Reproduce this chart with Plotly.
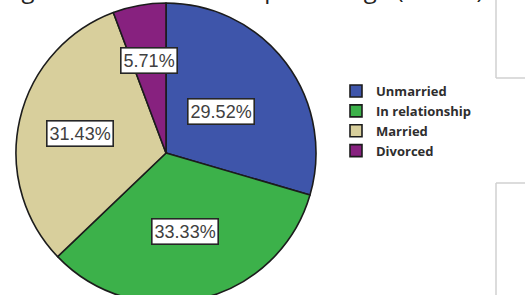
import math
import plotly.graph_objects as go

# Data
categories = ["Unmarried", "In relationship", "Married", "Divorced"]
percentages = [29.52, 33.33, 31.43, 5.71]
colors = ["#3E55AA", "#3CB14A", "#D8CF9C", "#87217F"]
title_text = "Figure 1: Marital status percentage (N=105)"

W, H = 525, 312          # figure is taller than the 295px window; bottom is cut
cx_px, cy_px, r_px = 166, 153, 150

def clamp(v):
    return max(0.0, min(1.0, v))

fig = go.Figure()
fig.add_trace(go.Pie(
    labels=categories,
    values=percentages,
    sort=False,
    direction="clockwise",
    rotation=0,
    marker=dict(colors=colors, line=dict(color="#1c1c1c", width=1.6)),
    textinfo="none",
    hoverinfo="label+percent",
    domain=dict(x=[clamp((cx_px - r_px) / W), clamp((cx_px + r_px) / W)],
                y=[clamp(1 - (cy_px + r_px) / H), clamp(1 - (cy_px - r_px) / H)]),
))

# Boxed percentage labels placed at mid-angle of each slice
label_r = [0.46, 0.54, 0.59, 0.63]
total = sum(percentages)
cum = 0.0
annotations = []
for i, v in enumerate(percentages):
    mid = (cum + v / 2) / total * 2 * math.pi
    cum += v
    px = cx_px + label_r[i] * r_px * math.sin(mid)
    py = cy_px - label_r[i] * r_px * math.cos(mid)
    annotations.append(dict(
        x=px / W, y=1 - py / H, xref="paper", yref="paper",
        xanchor="center", yanchor="middle",
        text=f"{v:.2f}%", showarrow=False,
        font=dict(family="Liberation Sans, Arial", size=18, color="#404040"),
        bgcolor="white", bordercolor="#262626", borderwidth=1.6, borderpad=2,
    ))

# Clipped title at the top edge (only lower part visible)
annotations.append(dict(
    x=486 / W, y=1 + 11 / H, xref="paper", yref="paper",
    xanchor="right", yanchor="middle",
    text=title_text, showarrow=False,
    font=dict(family="Open Sans", size=24, color="#222"),
))

shapes = [
    dict(type="line", xref="paper", yref="paper", x0=496 / W, x1=496 / W,
         y0=1, y1=1 - 78 / H, line=dict(color="#d0d0d0", width=1.5)),
    dict(type="line", xref="paper", yref="paper", x0=496 / W, x1=1,
         y0=1 - 78 / H, y1=1 - 78 / H, line=dict(color="#d0d0d0", width=1.5)),
    dict(type="line", xref="paper", yref="paper", x0=496 / W, x1=1,
         y0=1 - 183 / H, y1=1 - 183 / H, line=dict(color="#d0d0d0", width=1.5)),
    dict(type="line", xref="paper", yref="paper", x0=496 / W, x1=496 / W,
         y0=1 - 183 / H, y1=0, line=dict(color="#d0d0d0", width=1.5)),
]

fig.update_layout(
    width=W, height=H,
    margin=dict(l=0, r=0, t=0, b=0),
    paper_bgcolor="white", plot_bgcolor="white",
    showlegend=True,
    legend=dict(
        x=336 / W, y=1 - 76 / H, xanchor="left", yanchor="top",
        font=dict(family="Open Sans", size=13, color="#2e2e2e", weight=700),
        itemclick=False, tracegroupgap=0, bgcolor="rgba(0,0,0,0)",
    ),
    annotations=annotations,
    shapes=shapes,
)

fig.write_html(
    "out.html",
    config={"displayModeBar": False},
    post_script="document.body.style.margin='0';document.body.style.overflow='hidden';",
)
